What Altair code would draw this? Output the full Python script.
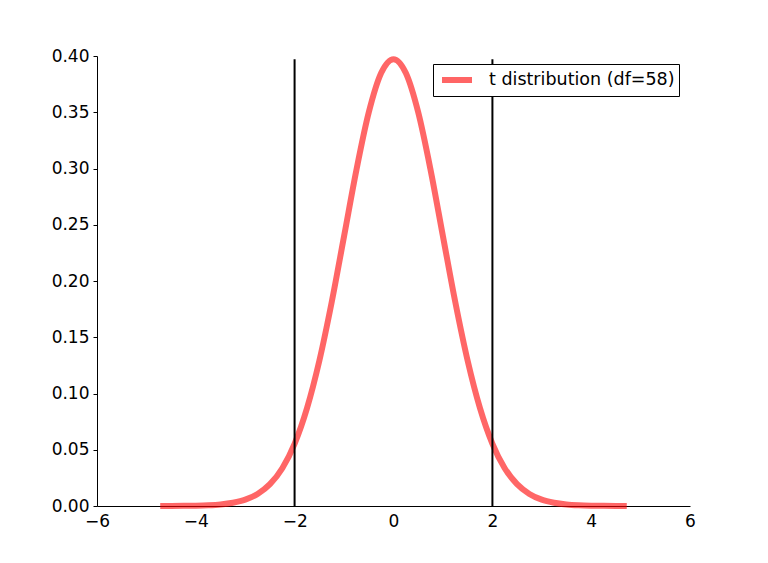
import altair as alt
import pandas as pd

# t distribution (df=58) density
xs = [-4.66, -4.5, -4.25, -4.0, -3.75, -3.5, -3.25, -3.0, -2.75, -2.5, -2.25, -2.0,
      -1.75, -1.5, -1.25, -1.0, -0.75, -0.5, -0.25, 0.0, 0.25, 0.5, 0.75, 1.0,
      1.25, 1.5, 1.75, 2.0, 2.25, 2.5, 2.75, 3.0, 3.25, 3.5, 3.75, 4.0, 4.25, 4.5, 4.66]
ys = [0.00004, 0.00006, 0.00013, 0.0003, 0.00066, 0.0014, 0.0029, 0.0056, 0.0107, 0.0194,
      0.0336, 0.0555, 0.0870, 0.1292, 0.1813, 0.2399, 0.2988, 0.3499, 0.3848, 0.3972,
      0.3848, 0.3499, 0.2988, 0.2399, 0.1813, 0.1292, 0.0870, 0.0555, 0.0336, 0.0194,
      0.0107, 0.0056, 0.0029, 0.0014, 0.00066, 0.0003, 0.00013, 0.00006, 0.00004]
series_name = "t distribution (df=58)"

# critical values drawn as vertical lines
crit_x = [-2.0017, 2.0017]
crit_top = [0.3972, 0.3972]

curve = pd.DataFrame({"x": xs, "y": ys, "series": [series_name] * len(xs)})
crit = pd.DataFrame({"x": crit_x, "y0": [0.0, 0.0], "y1": crit_top})

FONT = "DejaVu Sans"

xscale = alt.Scale(domain=[-6, 6], nice=False, zero=False)
yscale = alt.Scale(domain=[0, 0.40], nice=False)

line = alt.Chart(curve).mark_line(
    strokeWidth=6, interpolate="monotone", opacity=0.6, strokeCap="square"
).encode(
    x=alt.X("x:Q", scale=xscale,
            axis=alt.Axis(values=[-6, -4, -2, 0, 2, 4, 6], format="d", title=None,
                          grid=False, ticks=False, labelPadding=7, labelFlush=False,
                          labelFont=FONT, labelFontSize=17, labelColor="black",
                          domainColor="black", domainWidth=1)),
    y=alt.Y("y:Q", scale=yscale,
            axis=alt.Axis(values=[0, 0.05, 0.10, 0.15, 0.20, 0.25, 0.30, 0.35, 0.40],
                          format=".2f", title=None, grid=False, tickSize=4,
                          labelPadding=4, tickColor="black", tickWidth=1, labelFlush=False,
                          labelFont=FONT, labelFontSize=17, labelColor="black",
                          domainColor="black", domainWidth=1)),
    color=alt.Color("series:N", scale=alt.Scale(range=["red"]),
                    legend=alt.Legend(title=None, orient="none", legendX=336, legendY=8,
                                      symbolType="M-1.67,0H1.67", symbolSize=324,
                                      symbolStrokeWidth=6, symbolOpacity=0.6,
                                      labelFontSize=17.5, labelFont=FONT, labelColor="black",
                                      labelLimit=400,
                                      labelOffset=20, padding=4, symbolOffset=8,
                                      strokeColor="black", fillColor="white",
                                      cornerRadius=0)),
)

rules = alt.Chart(crit).mark_rule(color="black", strokeWidth=2).encode(
    x=alt.X("x:Q", scale=xscale),
    y=alt.Y("y0:Q", scale=yscale),
    y2="y1:Q",
)

chart = alt.layer(line, rules).properties(
    width=593, height=450,
    background="white",
    autosize=alt.AutoSizeParams(type="none"),
    padding={"left": 89, "top": 48, "right": 70, "bottom": 45},
).configure_view(stroke=None)

chart.save("out.html", embed_options={"renderer": "svg", "actions": False})
